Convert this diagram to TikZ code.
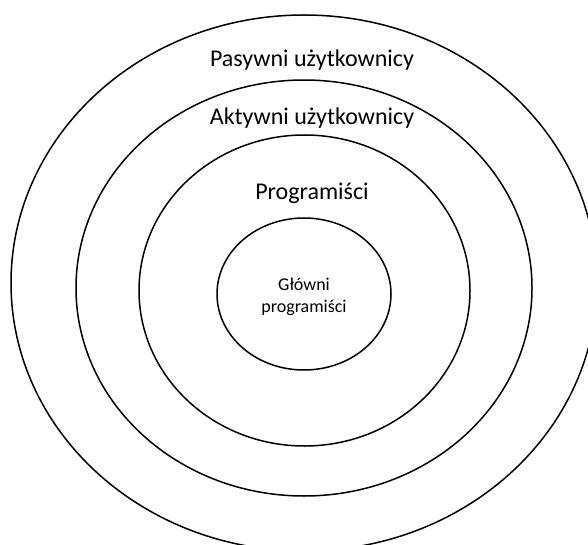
\documentclass[tikz,border=0pt]{standalone}
\usepackage{fontspec}
\setmainfont{Carlito}
\usetikzlibrary{shapes.geometric}
\begin{document}
\begin{tikzpicture}[x=1pt,y=-1pt,
  ring/.style={draw=black,line width=1.5pt,ellipse,inner sep=0pt,outer sep=0pt},
  bigtxt/.style={anchor=base,inner sep=0pt,font=\fontsize{24}{29}\selectfont},
  smalltxt/.style={anchor=base,inner sep=0pt,font=\fontsize{18}{22}\selectfont}]
\useasboundingbox (0,0) rectangle (588,545);
\clip (0,0) rectangle (588,545);
\node[ring,minimum width=586pt,minimum height=536pt] (outer) at (304,283) {};
\node[ring,minimum width=456pt,minimum height=416pt] (active) at (304,288) {};
\node[ring,minimum width=331pt,minimum height=311pt] (prog) at (304.5,290.5) {};
\node[ring,minimum width=174pt,minimum height=152pt] (core) at (304,294) {};
\node[bigtxt] (tpas) at (312,67) {Pasywni użytkownicy};
\node[bigtxt] (takt) at (312,125) {Aktywni użytkownicy};
\node[bigtxt] (tprog) at (312,200) {Programiści};
\node[smalltxt] (tcore1) at (304,290) {Główni};
\node[smalltxt] (tcore2) at (304,312) {programiści};
\end{tikzpicture}
\end{document}
